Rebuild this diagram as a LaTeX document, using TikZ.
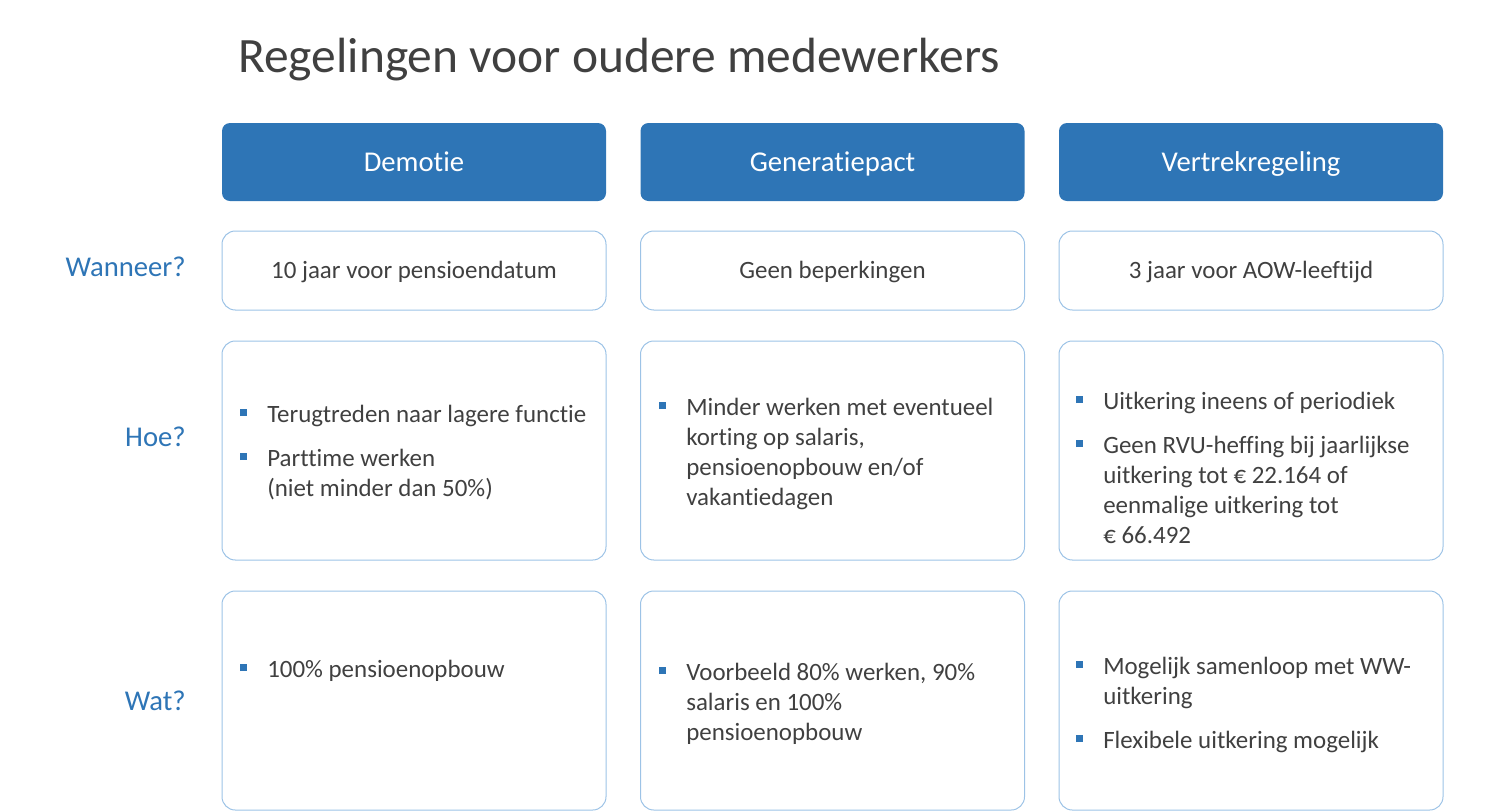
\documentclass[tikz,border=0pt]{standalone}
\usepackage{fontspec}
\setmainfont[Ligatures=NoCommon]{Carlito}
\usetikzlibrary{positioning}

\definecolor{hdrblue}{HTML}{2E75B6}
\definecolor{edgeblue}{HTML}{9DC3E6}
\definecolor{txtgray}{HTML}{404040}

\newcommand\bsq{\textcolor{hdrblue}{\rule[4.5pt]{5pt}{5pt}}}
\newcommand\bitem[1]{\par\hangindent=20.25pt\hangafter=1\noindent\makebox[20.25pt][l]{\bsq}#1}
\newcommand\bullets[1]{\parbox[t]{285pt}{\raggedright\setlength\parskip{10.5pt}#1}}

\begin{document}
\begin{tikzpicture}[
        x=0.75pt, y=-0.75pt,
        head/.style={rectangle, rounded corners=6pt, fill=hdrblue, text=white, text height=17pt, text depth=3.5pt,
            minimum width=288pt, minimum height=58.5pt, font=\fontsize{21.5}{24}\selectfont},
        cell/.style={rectangle, rounded corners=10pt, draw=edgeblue, line width=0.75pt, text height=16.5pt, text depth=4pt,
            minimum width=288pt, font=\fontsize{18.7}{22.5}\selectfont, text=txtgray},
        rowtag/.style={anchor=east, text=hdrblue, font=\fontsize{21.5}{24}\selectfont, inner sep=0pt},
        items/.style={anchor=base west, inner sep=0pt, text=txtgray, font=\fontsize{18.7}{22.5}\selectfont}
    ]
        \useasboundingbox (0,0) rectangle (1509,811);

        % Title
        \node (title) at (238,60) [anchor=west, inner sep=0pt, text=txtgray, font=\fontsize{37.1}{42}\selectfont] {Regelingen voor oudere medewerkers};

        % Headers
        \node (demotie) at (414,162) [head] {Demotie};
        \node (pact) at (832.5,162) [head] {Generatiepact};
        \node (vertrek) at (1251,162) [head] {Vertrekregeling};

        % Wanneer?
        \node (wanneer1) at (414,270.5) [cell, minimum height=59.25pt] {10 jaar voor pensioendatum};
        \node (wanneer2) at (832.5,270.5) [cell, minimum height=59.25pt] {Geen beperkingen};
        \node (wanneer3) at (1251,270.5) [cell, minimum height=59.25pt] {3 jaar voor AOW-leeftijd};

        % Hoe?
        \node (hoe1) at (414,450.5) [cell, minimum height=164.25pt] {};
        \node (hoe2) at (832.5,450.5) [cell, minimum height=164.25pt] {};
        \node (hoe3) at (1251,450.5) [cell, minimum height=164.25pt] {};
        \node (hoe1txt) at (240,422) [items] {\bullets{\bitem{Terugtreden naar lagere functie}\bitem{Parttime werken\newline(niet minder dan 50\%)}}};
        \node (hoe2txt) at (659,415) [items] {\bullets{\bitem{Minder werken met eventueel\newline korting op salaris,\newline pensioenopbouw en/of\newline vakantiedagen}}};
        \node (hoe3txt) at (1076,409) [items] {\bullets{\bitem{Uitkering ineens of periodiek}\bitem{Geen RVU-heffing bij jaarlijkse\newline uitkering tot € 22.164 of\newline eenmalige uitkering tot\newline € 66.492}}};

        % Wat?
        \node (wat1) at (414,700.5) [cell, minimum height=164.25pt] {};
        \node (wat2) at (832.5,700.5) [cell, minimum height=164.25pt] {};
        \node (wat3) at (1251,700.5) [cell, minimum height=164.25pt] {};
        \node (wat1txt) at (240,677) [items] {\bullets{\bitem{100\% pensioenopbouw}}};
        \node (wat2txt) at (659,680) [items] {\bullets{\bitem{Voorbeeld 80\% werken, 90\%\newline salaris en 100\%\newline pensioenopbouw}}};
        \node (wat3txt) at (1076,674) [items] {\bullets{\bitem{Mogelijk samenloop met WW-\newline uitkering}\bitem{Flexibele uitkering mogelijk}}};

        % Row tags
        \node (tagwanneer) at (186,267) [rowtag] {Wanneer?};
        \node (taghoe) at (186,437) [rowtag] {Hoe?};
        \node (tagwat) at (186,701) [rowtag] {Wat?};
    \end{tikzpicture}
\end{document}
